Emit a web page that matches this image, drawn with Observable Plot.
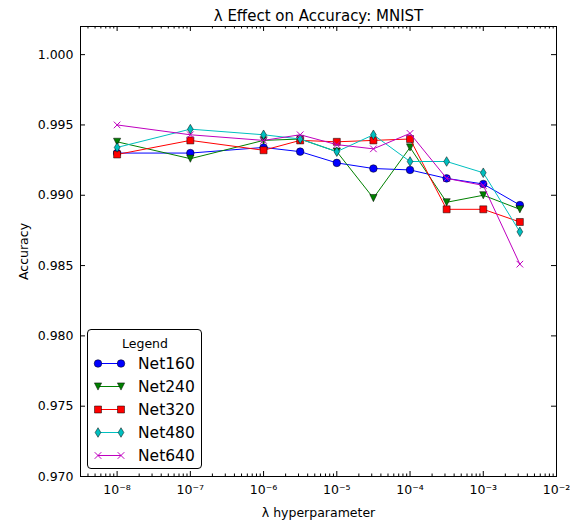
<!DOCTYPE html>
<html>
<head>
<meta charset="utf-8">
<script src="https://cdn.jsdelivr.net/npm/d3@7"></script>
<script src="https://cdn.jsdelivr.net/npm/@observablehq/plot@0.6"></script>
<style>
  html, body { margin: 0; padding: 0; background: #fff; }
  #wrap { position: relative; width: 570px; height: 520px; font-family: "DejaVu Sans", sans-serif; }
  #legend { position: absolute; left: 87px; top: 329px; width: 115px; height: 140px;
            border: 1px solid #000; border-radius: 4px; background: #fff; box-sizing: border-box; }
  #legend svg { display: block; }
</style>
</head>
<body>
<div id="wrap"><div id="legend"></div></div>
<script>
// ---- data ----
const lambdas = [1e-8, 1e-7, 1e-6, 3.16e-6, 1e-5, 3.16e-5, 1e-4, 3.16e-4, 1e-3, 3.16e-3];
const net160 = [0.9930, 0.9930, 0.9934, 0.9931, 0.9923, 0.9919, 0.9918, 0.9912, 0.9908, 0.9893];
const net240 = [0.9938, 0.9926, 0.9939, 0.9940, 0.9931, 0.9898, 0.9934, 0.9895, 0.9900, 0.9890];
const net320 = [0.9929, 0.9939, 0.9932, 0.9939, 0.9938, 0.9939, 0.9940, 0.9890, 0.9890, 0.9881];
const net480 = [0.9934, 0.9947, 0.9943, 0.9940, 0.9931, 0.9943, 0.9924, 0.9924, 0.9916, 0.9874];
const net640 = [0.9950, 0.9943, 0.9939, 0.9943, 0.9936, 0.9933, 0.9944, 0.9912, 0.9907, 0.9851];
const seriesNames = ["Net160", "Net240", "Net320", "Net480", "Net640"];
const seriesValues = [net160, net240, net320, net480, net640];
const seriesColors = ["#0000ff", "#008000", "#ff0000", "#00bfbf", "#bf00bf"];
const xTickValues = [1e-8, 1e-7, 1e-6, 1e-5, 1e-4, 1e-3, 1e-2];
const yTickValues = [0.970, 0.975, 0.980, 0.985, 0.990, 0.995, 1.000];
const titleText = "λ Effect on Accuracy: MNIST";
const xLabel = "λ hyperparameter";
const yLabel = "Accuracy";
const legendTitle = "Legend";

// ---- marker shapes ----
const rad = size => Math.sqrt(size / Math.PI);
const symCircle = {draw(c, s) { const r = rad(s); c.moveTo(r, 0); c.arc(0, 0, r, 0, 2 * Math.PI); c.closePath(); }};
const symTriDown = {draw(c, s) { const r = rad(s); c.moveTo(0, r); c.lineTo(r, -r); c.lineTo(-r, -r); c.closePath(); }};
const symSquare = {draw(c, s) { const r = rad(s); c.moveTo(-r, -r); c.lineTo(r, -r); c.lineTo(r, r); c.lineTo(-r, r); c.closePath(); }};
const symThinDiamond = {draw(c, s) { const r = rad(s); c.moveTo(0, -r); c.lineTo(0.6 * r, 0); c.lineTo(0, r); c.lineTo(-0.6 * r, 0); c.closePath(); }};
const symTimes = {draw(c, s) { const r = rad(s); c.moveTo(-r, -r); c.lineTo(r, r); c.moveTo(-r, r); c.lineTo(r, -r); }};
const markers = [
  {sym: symCircle, r: 3.8, filled: true},
  {sym: symTriDown, r: 3.6, filled: true},
  {sym: symSquare, r: 3.5, filled: true},
  {sym: symThinDiamond, r: 4.8, filled: true},
  {sym: symTimes, r: 3.3, filled: false}
];

// ---- table ----
const series = seriesNames.map((name, i) => ({
  name, color: seriesColors[i], marker: markers[i],
  rows: lambdas.map((l, j) => ({lambda: l, acc: seriesValues[i][j], net: name}))
}));

const W = 570, H = 520, mT = 26, mB = 44, mL = 80, mR = 14;
const frameW = W - mL - mR, frameH = H - mT - mB;
const xDomain = [Math.pow(10, -8.5), 1e-2];
const minorX = d3.scaleLog().domain(xDomain).ticks().filter(v => !xTickValues.some(t => Math.abs(t - v) / t < 1e-6));

const supMap = {"-": "⁻", "0": "⁰", "1": "¹", "2": "²", "3": "³", "4": "⁴", "5": "⁵", "6": "⁶", "7": "⁷", "8": "⁸", "9": "⁹"};
const fmtPow = d => "10" + String(Math.round(Math.log10(d))).split("").map(ch => supMap[ch]).join("");

const marks = [
  Plot.frame({stroke: "#000", strokeWidth: 1}),
  // inside ticks, all four sides
  Plot.tickX(xTickValues, {x: d => d, insetTop: frameH - 5, stroke: "#000"}),
  Plot.tickX(xTickValues, {x: d => d, insetBottom: frameH - 5, stroke: "#000"}),
  Plot.tickX(minorX, {x: d => d, insetTop: frameH - 2.5, stroke: "#000"}),
  Plot.tickX(minorX, {x: d => d, insetBottom: frameH - 2.5, stroke: "#000"}),
  Plot.tickY(yTickValues, {y: d => d, insetRight: frameW - 5, stroke: "#000"}),
  Plot.tickY(yTickValues, {y: d => d, insetLeft: frameW - 5, stroke: "#000"}),
  Plot.axisX({ticks: xTickValues, tickSize: 0, tickPadding: 9, tickFormat: fmtPow, fontSize: 12.5,
              label: xLabel, labelAnchor: "center", labelOffset: 40, labelArrow: false}),
  Plot.axisY({ticks: yTickValues, tickSize: 0, tickPadding: 7, tickFormat: d3.format(".3f"), fontSize: 12.5,
              label: yLabel, labelAnchor: "center", labelOffset: 61, labelArrow: false}),
  Plot.text([titleText], {text: d => d, frameAnchor: "top", lineAnchor: "bottom", dy: -6, fontSize: 15})
];
for (const s of series) {
  marks.push(Plot.line(s.rows, {x: "lambda", y: "acc", stroke: s.color, strokeWidth: 1}));
  marks.push(Plot.dot(s.rows, {x: "lambda", y: "acc", symbol: s.marker.sym, r: s.marker.r,
    fill: s.marker.filled ? s.color : "none",
    stroke: s.marker.filled ? "#000" : s.color,
    strokeWidth: s.marker.filled ? 0.5 : 1}));
}

const chart = Plot.plot({
  width: W, height: H, marginTop: mT, marginBottom: mB, marginLeft: mL, marginRight: mR,
  style: {fontFamily: "DejaVu Sans", fontSize: "12.5px", color: "#000", background: "#fff"},
  x: {type: "log", domain: xDomain},
  y: {domain: [0.970, 1.002]},
  marks
});
document.getElementById("wrap").insertBefore(chart, document.getElementById("legend"));

// ---- legend ----
const lg = d3.select("#legend").append("svg").attr("width", 113).attr("height", 138)
  .style("font-family", "DejaVu Sans");
lg.append("text").attr("x", 57).attr("y", 13).attr("text-anchor", "middle").attr("dominant-baseline", "central")
  .attr("font-size", 12.5).text(legendTitle);
series.forEach((s, i) => {
  const y = 33.5 + i * 23;
  const g = lg.append("g").attr("transform", `translate(0,${y})`);
  g.append("line").attr("x1", 10).attr("x2", 33).attr("y1", 0).attr("y2", 0).attr("stroke", s.color).attr("stroke-width", 1);
  const p = d3.symbol().type(s.marker.sym).size(Math.PI * s.marker.r * s.marker.r)();
  [10, 33].forEach(x => g.append("path").attr("d", p).attr("transform", `translate(${x},0)`)
    .attr("fill", s.marker.filled ? s.color : "none")
    .attr("stroke", s.marker.filled ? "#000" : s.color)
    .attr("stroke-width", s.marker.filled ? 0.5 : 1));
  g.append("text").attr("x", 50).attr("y", 0).attr("dominant-baseline", "central").attr("font-size", 15.5).text(s.name);
});
</script>
</body>
</html>
